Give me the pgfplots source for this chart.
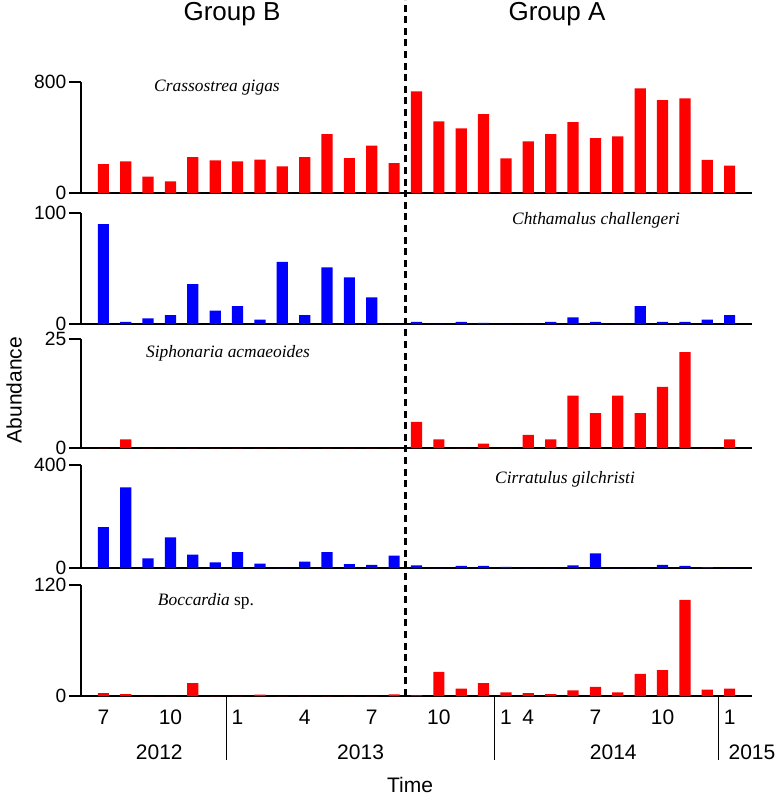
\documentclass[border=0pt]{standalone}
\usepackage{pgfplots}
\pgfplotsset{compat=1.18}
\usepackage{pgfplotstable}
\usepackage{fontspec}
\setmainfont{Liberation Sans}
\newfontfamily\spfont{Liberation Serif}

\pgfplotstableread{
idx crass chtham siph cirr bocc
0 209 90 0 159 3
1 228 2 2 313 2
2 118 5 0 37 0
3 84 8 0 119 0
4 259 36 0 52 14
5 235 12 0 22 0
6 228 16 0 62 0
7 240 4 0 17 1.5
8 192 56 0 0 0
9 259 8 0 25 0
10 425 51 0 62 0
11 252 42 0 15 0
12 341 24 0 12 0
13 216 0 0 48 1.8
14 732 2 6 10 0.7
15 516 0 2 0 26
16 466 2 0 8 8
17 569 1 1 8 14
18 250 0 0 4 4
19 372 0 3 0 3
20 425 2 2 0 2
21 511 6 12 10 6
22 396 2 8 57 10
23 408 0 12 0 4
24 754 16 8 0 24
25 670 2 14 12 28
26 682 2 22 8 104
27 238 4 0 3 7
28 197 8 2 0 8
}\datatable

\pgfplotsset{panel/.style={
  scale only axis, width=335.5pt, xmin=-1, xmax=29, ymin=0,
  axis x line=bottom, axis y line=left,
  axis line style={-, line width=1pt},
  xtick=\empty, tick align=outside, major tick length=6pt,
  ytick style={line width=1pt, black},
  ybar, bar width=5.6pt, clip=false,
  /pgf/number format/assume math mode=true,
  yticklabel style={font=\fontsize{9.6}{9.6}\selectfont, inner sep=0.2pt, xshift=-1pt, text height=6.9pt, text depth=0pt},
  anchor=south west,
}}
\definecolor{barred}{RGB}{255,0,0}
\definecolor{barblue}{RGB}{0,0,255}

\begin{document}
\begin{tikzpicture}
\path[use as bounding box] (0,0) rectangle (389pt,-400pt);

\begin{axis}[panel, at={(40.5pt,-96.5pt)}, height=55.5pt, ymax=800, ytick={0,800}]
\addplot[fill=barred, draw=none] table[x=idx, y=crass] {\datatable};
\end{axis}

\begin{axis}[panel, at={(40.5pt,-162pt)}, height=55.5pt, ymax=100, ytick={0,100}]
\addplot[fill=barblue, draw=none] table[x=idx, y=chtham] {\datatable};
\end{axis}

\begin{axis}[panel, at={(40.5pt,-224pt)}, height=54.5pt, ymax=25, ytick={0,25}]
\addplot[fill=barred, draw=none] table[x=idx, y=siph] {\datatable};
\end{axis}

\begin{axis}[panel, at={(40.5pt,-284pt)}, height=51.5pt, ymax=400, ytick={0,400}]
\addplot[fill=barblue, draw=none] table[x=idx, y=cirr] {\datatable};
\end{axis}

\begin{axis}[panel, at={(40.5pt,-348pt)}, height=55.5pt, ymax=120, ytick={0,120},
  xtick={0,3,6,9,12,15,18,19,22,25,28},
  xticklabels={7,10,1,4,7,10,1,4,7,10,1},
  x tick style={draw=none},
  xticklabel style={font=\fontsize{10.5}{12}\selectfont, yshift=2.5pt}]
\addplot[fill=barred, draw=none] table[x=idx, y=bocc] {\datatable};
\draw[line width=0.6pt] (axis cs:5.5,0) -- ++(0pt,-32pt);
\draw[line width=0.6pt] (axis cs:17.5,0) -- ++(0pt,-32pt);
\draw[line width=0.6pt] (axis cs:27.5,0) -- ++(0pt,-32pt);
\node[font=\fontsize{10.5}{12}\selectfont] at ([yshift=-28pt]axis cs:2.5,0) {2012};
\node[font=\fontsize{10.5}{12}\selectfont] at ([yshift=-28pt]axis cs:11.5,0) {2013};
\node[font=\fontsize{10.5}{12}\selectfont] at ([yshift=-28pt]axis cs:22.8,0) {2014};
\node[font=\fontsize{10.5}{12}\selectfont] at ([yshift=-28pt]axis cs:29,0) {2015};
\draw[line width=1.3pt, dash pattern=on 3.5pt off 2.3pt] (axis cs:13.5,0) -- ++(0pt,348pt);
\end{axis}

\node[font=\spfont\itshape\fontsize{8.7}{10}\selectfont] at (108.5pt,-44pt) {Crassostrea gigas};
\node[font=\spfont\itshape\fontsize{8.7}{10}\selectfont] at (298pt,-110pt) {Chthamalus challengeri};
\node[font=\spfont\itshape\fontsize{8.7}{10}\selectfont] at (114pt,-176.5pt) {Siphonaria acmaeoides};
\node[font=\spfont\itshape\fontsize{8.7}{10}\selectfont] at (282.5pt,-239.5pt) {Cirratulus gilchristi};
\node[font=\spfont\fontsize{8.7}{10}\selectfont] at (103pt,-300.5pt) {\textit{Boccardia} sp.};

\node[font=\fontsize{13}{15}\selectfont] at (116pt,-7pt) {Group B};
\node[font=\fontsize{13}{15}\selectfont] at (278.5pt,-7pt) {Group A};
\node[font=\fontsize{10.5}{12}\selectfont, rotate=90] at (7pt,-195pt) {Abundance};
\node[font=\fontsize{10.5}{12}\selectfont] at (205pt,-392.5pt) {Time};
\end{tikzpicture}
\end{document}
